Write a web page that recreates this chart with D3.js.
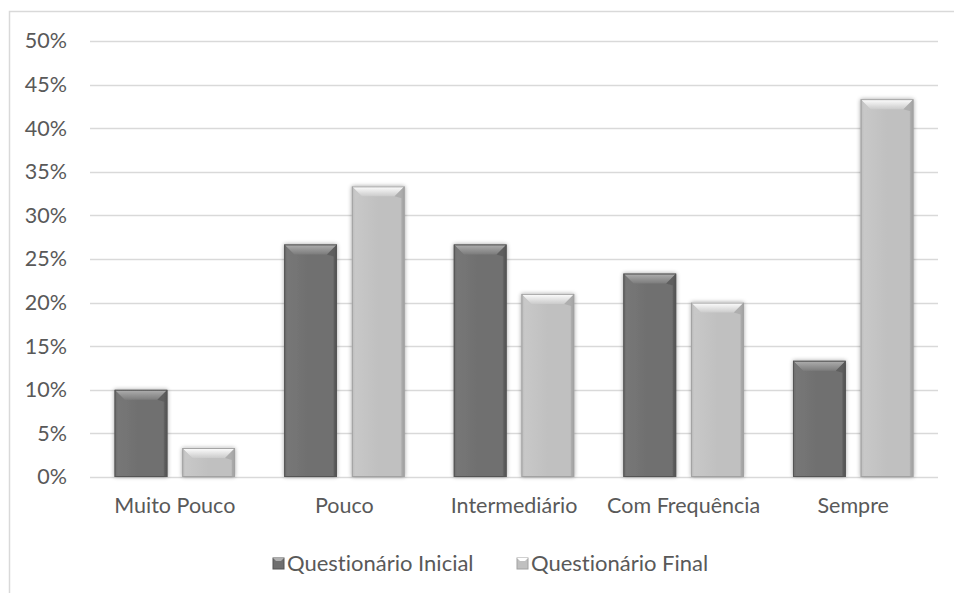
<!DOCTYPE html>
<html><head><meta charset="utf-8">
<script src="https://cdn.jsdelivr.net/npm/d3@7"></script>
<style>body{margin:0;background:#fff}svg{display:block}text{font-family:Lato,"Open Sans",sans-serif;font-variant-ligatures:none;font-feature-settings:"liga" 0}</style>
</head><body><svg id="c" width="954" height="593"></svg>
<script>
const categories = ["Muito Pouco","Pouco","Intermediário","Com Frequência","Sempre"];
const seriesNames = ["Questionário Inicial","Questionário Final"];
const inicial = [0.10,0.2667,0.2667,0.2333,0.1333];
const final = [0.0333,0.3333,0.21,0.20,0.4333];
const yTicks = [0,0.05,0.10,0.15,0.20,0.25,0.30,0.35,0.40,0.45,0.50];

const svg = d3.select("#c");
const W=954,H=593;
const FS=21.5;
const m={left:90,right:16,top:41,bottom:116};
const x = d3.scaleBand().domain(categories).range([m.left,W-m.right]).paddingInner(0.29).paddingOuter(0.145);
const xs = d3.scaleBand().domain(seriesNames).range([0,x.bandwidth()]).paddingInner(0.22);
const y = d3.scaleLinear().domain([0,0.5]).range([H-m.bottom,m.top]);

const defs=svg.append("defs");
const f=defs.append("filter").attr("id","sh").attr("x","-20%").attr("y","-20%").attr("width","140%").attr("height","140%");
f.append("feGaussianBlur").attr("in","SourceAlpha").attr("stdDeviation",2);
f.append("feOffset").attr("dx",0).attr("dy",0).attr("result","b");
f.append("feComponentTransfer").append("feFuncA").attr("type","linear").attr("slope",0.35);
const mg=f.append("feMerge");mg.append("feMergeNode");mg.append("feMergeNode").attr("in","SourceGraphic");

const pal=[{base:"#6f6f6f",top1:"#b0b0b0",top2:"#7c7c7c",left:"#777",right:"#555"},
           {base:"#c0c0c0",top1:"#ffffff",top2:"#cbcbcb",left:"#c8c8c8",right:"#a2a2a2"}];
pal.forEach((p,i)=>{
  const g=defs.append("linearGradient").attr("id","tg"+i).attr("x1",0).attr("y1",0).attr("x2",0).attr("y2",1);
  g.append("stop").attr("offset","0").attr("stop-color",p.top1);
  g.append("stop").attr("offset","1").attr("stop-color",p.top2);
  const h=defs.append("linearGradient").attr("id","bg"+i).attr("x1",0).attr("y1",0).attr("x2",1).attr("y2",0);
  h.append("stop").attr("offset","0").attr("stop-color",p.right);
  h.append("stop").attr("offset","0.06").attr("stop-color",p.left);
  h.append("stop").attr("offset","0.5").attr("stop-color",p.base);
  h.append("stop").attr("offset","0.92").attr("stop-color",p.base);
  h.append("stop").attr("offset","1").attr("stop-color",p.right);
});

// border
svg.append("path").attr("d",`M9.5,${H} V11.5 H${W}`).attr("fill","none").attr("stroke","#d9d9d9").attr("stroke-width",1.5);

// grid
svg.append("g").selectAll("line").data(yTicks).join("line")
  .attr("x1",m.left).attr("x2",W-m.right).attr("y1",d=>Math.round(y(d))+0.5).attr("y2",d=>Math.round(y(d))+0.5)
  .attr("stroke","#d9d9d9").attr("stroke-width",1.3);

// y axis labels
const yAxis=d3.axisLeft(y).tickValues(yTicks).tickFormat(d3.format(".0%")).tickSize(0).tickPadding(23);
const ga=svg.append("g").attr("transform",`translate(${m.left},0)`).call(yAxis);
ga.select(".domain").remove();
ga.selectAll("text").attr("font-size",FS).attr("fill","#595959").style("font-family","Lato,'Open Sans',sans-serif");

// x axis labels
const xAxis=d3.axisBottom(x).tickSize(0).tickPadding(21);
const gx=svg.append("g").attr("transform",`translate(0,${y(0)})`).call(xAxis);
gx.select(".domain").remove();
gx.selectAll("text").attr("font-size",FS).attr("fill","#595959").style("font-family","Lato,'Open Sans',sans-serif");

// bars
const data=[];
categories.forEach((c,i)=>{data.push({c,s:0,v:inicial[i]});data.push({c,s:1,v:final[i]});});
const bars=svg.append("g").selectAll("g").data(data).join("g").attr("filter","url(#sh)");
bars.each(function(d){
  const g=d3.select(this);
  const bx=x(d.c)+xs(seriesNames[d.s]), bw=xs.bandwidth();
  const by=y(d.v), bb=y(0), bh=bb-by;
  const b=Math.min(10,bh/2), sx=Math.min(10,bw/3);
  const p=pal[d.s];
  g.append("rect").attr("x",bx).attr("y",by).attr("width",bw).attr("height",bh).attr("fill",`url(#bg${d.s})`);
  g.append("path").attr("d",`M${bx},${by}H${bx+bw}L${bx+bw-sx},${by+b}H${bx+sx}Z`).attr("fill",`url(#tg${d.s})`);
  g.append("path").attr("d",`M${bx},${by}L${bx+sx},${by+b}L${bx+3},${by+b+2}V${bb}H${bx}Z`).attr("fill",p.left).attr("opacity",0.6);
  g.append("path").attr("d",`M${bx+bw},${by}L${bx+bw-sx},${by+b}L${bx+bw-3},${by+b+2}V${bb}H${bx+bw}Z`).attr("fill",p.right).attr("opacity",0.6);
  g.append("rect").attr("x",bx+0.5).attr("y",by+0.5).attr("width",bw-1).attr("height",bh-1).attr("fill","none").attr("stroke",p.right).attr("stroke-width",1);
});

// legend
const leg=svg.append("g");
const lx=[273,517];
seriesNames.forEach((s,i)=>{
  const g=leg.append("g").attr("transform",`translate(${lx[i]},558)`);
  g.append("rect").attr("width",11).attr("height",11).attr("fill",pal[i].base).attr("stroke",pal[i].right);
  g.append("path").attr("d","M0,0H11L8,3H3Z").attr("fill",pal[i].top1);
  g.append("text").attr("x",14).attr("y",5.5).attr("dy","0.35em").attr("font-size",FS+0.5).attr("fill","#595959").text(s);
});
</script></body></html>
